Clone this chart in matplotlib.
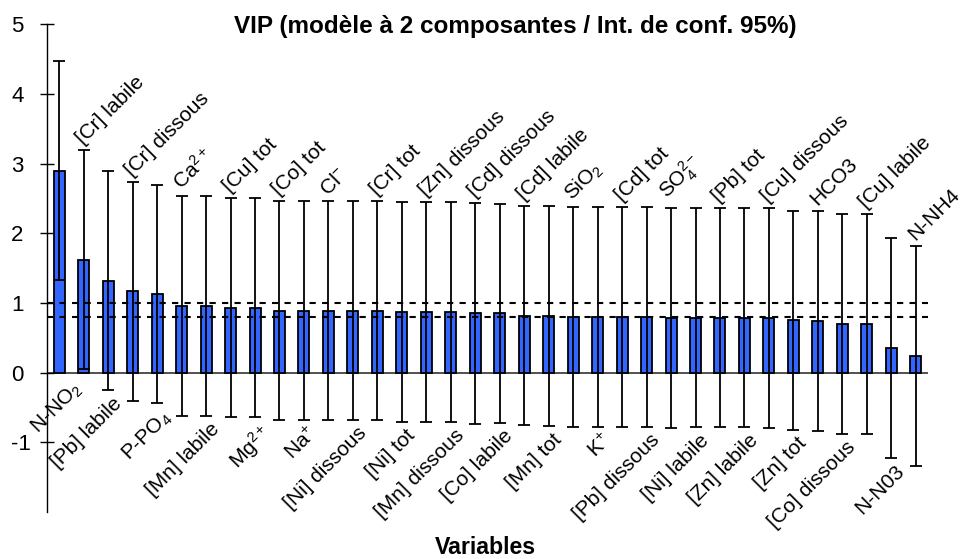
import matplotlib
matplotlib.use('Agg')
import matplotlib.pyplot as plt
import numpy as np

plt.rcParams['font.family'] = ['Liberation Sans', 'DejaVu Sans']
plt.rcParams['mathtext.fontset'] = 'custom'
plt.rcParams['mathtext.rm'] = 'Liberation Sans'
plt.rcParams['mathtext.it'] = 'Liberation Sans:italic'
plt.rcParams['mathtext.bf'] = 'Liberation Sans:bold'
plt.rcParams['mathtext.default'] = 'regular'
plt.rcParams['axes.unicode_minus'] = False

# VIP scores (2-component PLS model) with 95% confidence half-widths
variables = ['N-NO$_2$', '[Cr] labile', '[Pb] labile', '[Cr] dissous', 'P-PO$_4$',
             'Ca$^{2+}$', '[Mn] labile', '[Cu] tot', 'Mg$^{2+}$', '[Co] tot',
             'Na$^{+}$', 'Cl$^{-}$', '[Ni] dissous', '[Cr] tot', '[Ni] tot',
             '[Zn] dissous', '[Mn] dissous', '[Cd] dissous', '[Co] labile', '[Cd] labile',
             '[Mn] tot', 'SiO$_2$', 'K$^{+}$', '[Cd] tot', '[Pb] dissous',
             'SO$_4^{2-}$', '[Ni] labile', '[Pb] tot', '[Zn] labile', '[Cu] dissous',
             '[Zn] tot', 'HCO3', '[Co] dissous', '[Cu] labile', 'N-N03', 'N-NH4']
vip = [2.90, 1.62, 1.32, 1.17, 1.13, 0.96, 0.96, 0.93, 0.93, 0.89,
       0.89, 0.89, 0.89, 0.89, 0.87, 0.87, 0.87, 0.85, 0.85, 0.82,
       0.81, 0.80, 0.80, 0.80, 0.80, 0.79, 0.79, 0.79, 0.79, 0.78,
       0.75, 0.74, 0.70, 0.70, 0.35, 0.24]
ci = [1.57, 1.57, 1.57, 1.57, 1.57, 1.58, 1.58, 1.57, 1.57, 1.57,
      1.57, 1.57, 1.57, 1.57, 1.58, 1.58, 1.58, 1.59, 1.57, 1.57,
      1.58, 1.58, 1.58, 1.58, 1.58, 1.58, 1.57, 1.57, 1.57, 1.58,
      1.57, 1.58, 1.58, 1.58, 1.58, 1.58]
seuils = [1.0, 0.8]
yticks = [-1, 0, 1, 2, 3, 4, 5]

fig = plt.figure(figsize=(9.62, 5.59), dpi=100)
ax = fig.add_axes([47 / 962, 1 - 512 / 559, (928 - 47) / 962, (512 - 24.3) / 559])

x = np.arange(len(variables))
ax.bar(x, vip, width=0.45, color='#3366ff', edgecolor='black', linewidth=1.3, zorder=2)
ax.errorbar(x, vip, yerr=ci, fmt='none', ecolor='black', elinewidth=1.3,
            capsize=4, capthick=1.3, zorder=3)
ax.axhline(0, color='#333333', lw=1.2, zorder=1)
for s in seuils:
    ax.axhline(s, color='black', lw=1.5, dashes=(3, 3), zorder=4)

ax.set_xlim(-0.5, 35.5)
ax.set_ylim(-2, 5)
for side in ['top', 'right', 'bottom']:
    ax.spines[side].set_visible(False)
ax.spines['left'].set_color('black')
ax.spines['left'].set_linewidth(1.0)
ax.set_xticks([])
ax.set_yticks(yticks)
ax.tick_params(axis='y', direction='inout', length=9.5, width=1, pad=21, labelsize=16)
for t in ax.get_yticklabels():
    t.set_ha('left')

# names alternate: odd ones above the upper cap, even ones below the lower cap
for i, (name, v, e) in enumerate(zip(variables, vip, ci)):
    if i % 2:
        ax.text(i + 0.1, v + e + 0.03, name, rotation=45, rotation_mode='anchor',
                ha='left', va='bottom', fontsize=15)
    else:
        low = v - e
        if low > 0:
            ax.text(i + 0.5, -0.08, name, rotation=45, rotation_mode='anchor',
                    ha='right', va='top', fontsize=15)
        else:
            ax.text(i + 0.15, low - 0.05, name, rotation=45, rotation_mode='anchor',
                    ha='right', va='top', fontsize=15)

fig.text(515 / 962, 1 - 26 / 559, 'VIP (modèle à 2 composantes / Int. de conf. 95%)',
         ha='center', va='center', fontsize=17.5, fontweight='bold')
fig.text(485 / 962, 1 - 554 / 559, 'Variables', ha='center', va='baseline',
         fontsize=16.7, fontweight='bold')

fig.savefig('out.png', dpi=100)
